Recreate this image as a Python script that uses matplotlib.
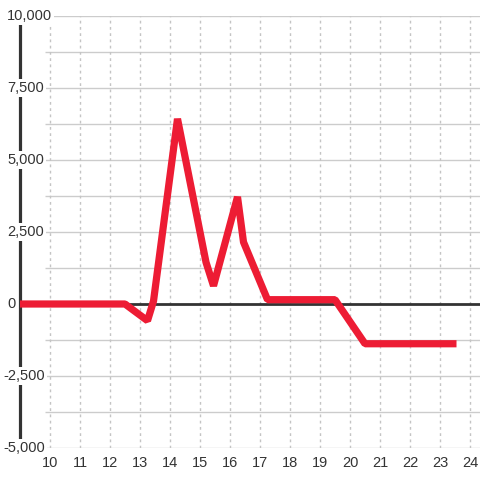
import matplotlib.pyplot as plt
from matplotlib.transforms import blended_transform_factory

# values
hours = [9, 12.5, 13.25, 13.45, 14.25, 15.2, 15.45, 16.25, 16.45, 17.25, 19.5, 20.5, 23.55]
values = [0, 0, -580, 100, 6430, 1450, 630, 3720, 2150, 150, 150, -1380, -1380]

x_ticks = list(range(10, 25))
y_ticks = [10000, 7500, 5000, 2500, 0, -2500, -5000]
y_labels = ["10,000", "7,500", "5,000", "2,500", "0", "-2,500", "-5,000"]
y_grid = [v * 1250 for v in range(-4, 9) if v != 0]

plt.rcParams['font.family'] = ['Liberation Sans', 'DejaVu Sans']

fig = plt.figure(figsize=(4.8, 4.8), dpi=100)
ax = fig.add_axes([20 / 480, 32 / 480, 460 / 480, 432 / 480])

ax.set_xlim(9, 9 + 460 / 30)
ax.set_ylim(-5000, 10000)

for s in ["top", "right", "bottom"]:
    ax.spines[s].set_visible(False)
ax.spines["left"].set_color("#333333")
ax.spines["left"].set_linewidth(2.3)
ax.spines["left"].set_zorder(3)

# horizontal grid, starting just right of the labels
ax.hlines(y_grid, 9 + 25 / 30, 9 + 460 / 30, colors="#cccccc", linewidth=1, zorder=1)
# vertical dotted grid
for xv in x_ticks:
    ax.axvline(xv, color="#c4c4c4", linewidth=1, linestyle=(0, (2, 2.5)), zorder=1)

ax.axhline(0, color="#333333", linewidth=2, zorder=2)

ax.plot(hours, values, color="#ed1c34", linewidth=5.2, solid_joinstyle="bevel",
        solid_capstyle="butt", zorder=4)

ax.set_yticks([])
ax.set_xticks(x_ticks)
ax.set_xticklabels([str(v) for v in x_ticks], fontsize=10.5, color="#333333")
ax.tick_params(axis="x", length=0, pad=6)

trans = blended_transform_factory(fig.transFigure, ax.transData)
for v, lab in zip(y_ticks, y_labels):
    xpos = 3 / 480 if lab.startswith("-") else 7 / 480
    ax.text(xpos, v, lab, transform=trans, ha="left", va="center", fontsize=10.5,
            color="#333333", zorder=5,
            bbox=dict(boxstyle="square,pad=0.15", facecolor="white", edgecolor="none"))

fig.savefig("out.png", dpi=100)
